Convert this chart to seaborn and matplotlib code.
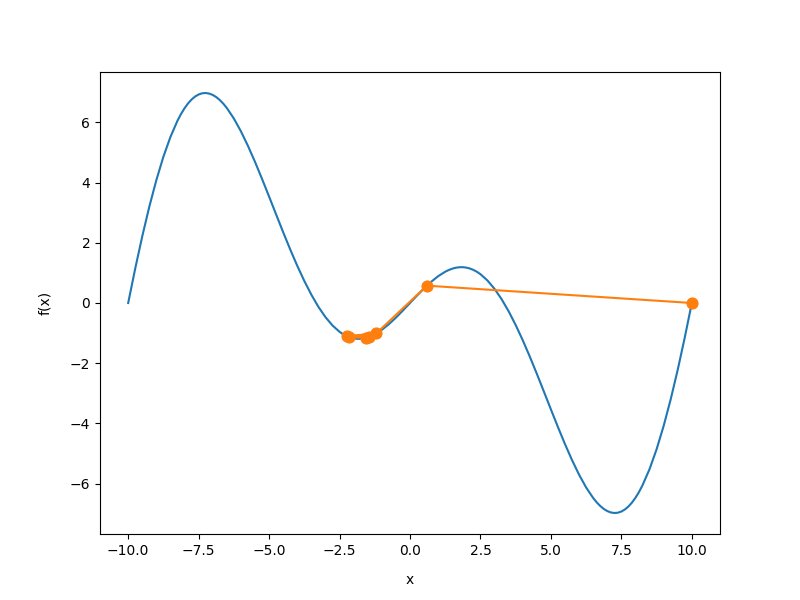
import matplotlib
matplotlib.use("Agg")
import matplotlib.pyplot as plt
import seaborn as sns

# =========================
# Curve values
# =========================
x_curve = [-10.0, -9.75, -9.5, -9.25, -9.0, -8.75, -8.5, -8.25, -8.125, -8.0, -7.875, -7.75,
           -7.625, -7.5, -7.375, -7.25, -7.125, -7.0, -6.875, -6.75, -6.625, -6.5, -6.25, -6.0, -5.75, -5.5, -5.25,
           -5.0, -4.75, -4.5, -4.25, -4.0, -3.75, -3.5, -3.25, -3.0, -2.75,
           -2.5, -2.375, -2.25, -2.125, -2.0, -1.875, -1.75, -1.625, -1.5, -1.375, -1.25, -1.0, -0.75, -0.5, -0.25,
           0.0, 0.25, 0.5, 0.75, 1.0, 1.25, 1.375, 1.5, 1.625, 1.75, 1.875, 2.0, 2.125, 2.25, 2.375,
           2.5, 2.75, 3.0, 3.25, 3.5, 3.75, 4.0, 4.25, 4.5, 4.75,
           5.0, 5.25, 5.5, 5.75, 6.0, 6.25, 6.5, 6.625, 6.75, 6.875, 7.0, 7.125, 7.25,
           7.375, 7.5, 7.625, 7.75, 7.875, 8.0, 8.125, 8.25, 8.5, 8.75, 9.0, 9.25, 9.5, 9.75, 10.0]
y_curve = [0.0, 1.146, 2.218, 3.202, 4.086, 4.861, 5.520, 6.058, 6.281, 6.472, 6.633, 6.762,
           6.861, 6.929, 6.968, 6.978, 6.959, 6.914, 6.842, 6.745, 6.624, 6.480, 6.130, 5.706, 5.221, 4.690, 4.123,
           3.536, 2.941, 2.351, 1.779, 1.236, 0.732, 0.275, -0.128, -0.469, -0.747,
           -0.957, -1.037, -1.099, -1.146, -1.176, -1.190, -1.188, -1.172, -1.141, -1.096, -1.039, -0.891, -0.704, -0.486, -0.248,
           0.0, 0.248, 0.486, 0.704, 0.891, 1.039, 1.096, 1.141, 1.172, 1.188, 1.190, 1.176, 1.146, 1.099, 1.037,
           0.957, 0.747, 0.469, 0.128, -0.275, -0.732, -1.236, -1.779, -2.351, -2.941,
           -3.536, -4.123, -4.690, -5.221, -5.706, -6.130, -6.480, -6.624, -6.745, -6.842, -6.914, -6.959, -6.978,
           -6.968, -6.929, -6.861, -6.762, -6.633, -6.472, -6.281, -6.058, -5.520, -4.861, -4.086, -3.202, -2.218, -1.146, 0.0]

# Search path (orange markers)
x_path = [10.0, 0.6, -1.2, -2.25, -1.45, -2.15, -1.55]
y_path = [0.0, 0.576, -1.013, -1.099, -1.124, -1.138, -1.155]

# =========================
# Plot
# =========================
fig, ax = plt.subplots(figsize=(8, 6), dpi=100)
sns.lineplot(x=x_curve, y=y_curve, color="C0", ax=ax, sort=False)
sns.lineplot(x=x_path, y=y_path, color="C1", marker="o", markersize=8,
             markeredgecolor="C1", ax=ax, sort=False)
ax.set_xlabel("x", labelpad=11)
ax.set_ylabel("f(x)", labelpad=12.5)
plt.savefig("out.png")
plt.close()
